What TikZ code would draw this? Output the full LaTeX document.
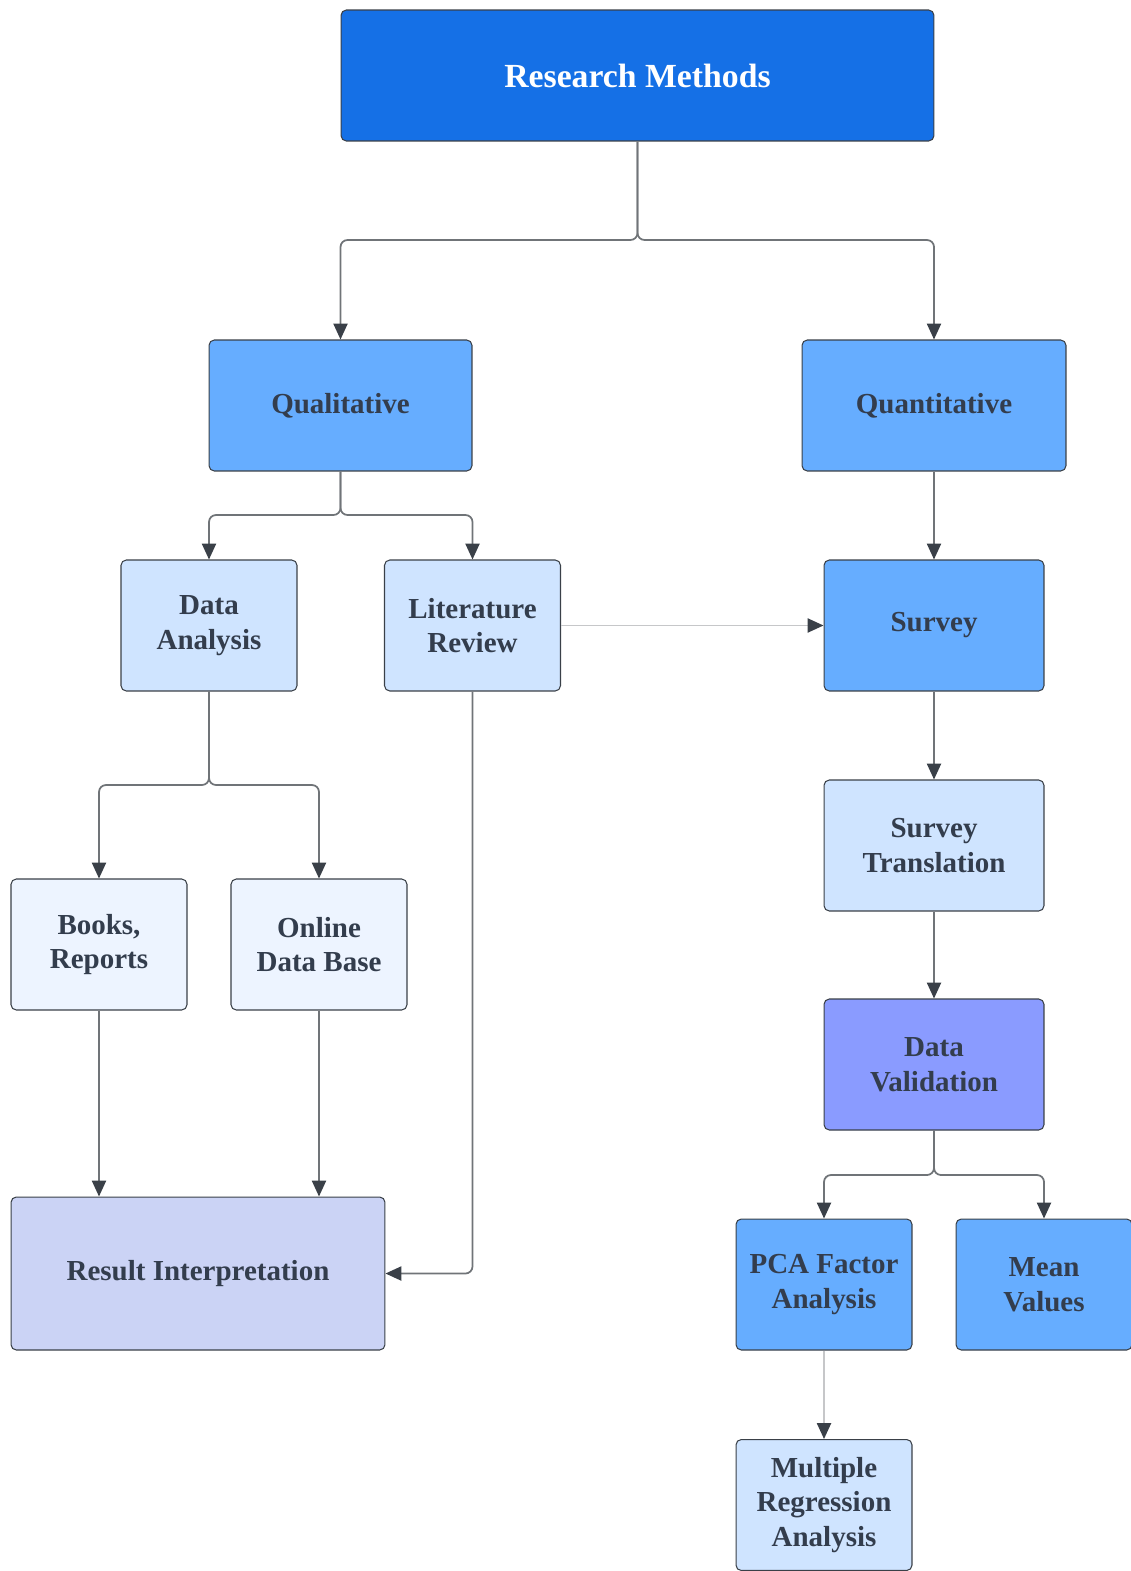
\documentclass[tikz,border=0pt]{standalone}
\usepackage{fontspec}
\setmainfont{Liberation Serif}
\newfontfamily\boxfont{Liberation Serif Bold}
\usepackage{tikz}
\usetikzlibrary{arrows.meta}

\definecolor{topblue}{HTML}{1570E6}
\definecolor{midblue}{HTML}{66ADFF}
\definecolor{lightblue}{HTML}{CFE4FF}
\definecolor{paleblue}{HTML}{EDF4FF}
\definecolor{violetblue}{HTML}{8A9BFF}
\definecolor{lavender}{HTML}{CBD3F5}
\definecolor{textgray}{HTML}{333D4D}
\definecolor{linegray}{HTML}{707478}
\definecolor{tipgray}{HTML}{3A4048}

\begin{document}
\begin{tikzpicture}[x=0.02cm, y=-0.02cm]
    \tikzstyle{box}=[draw=tipgray, line width=0.6pt, rounded corners=3pt,
      text=textgray, align=center, inner sep=0pt,
      font=\boxfont\fontsize{16.5}{19.8}\selectfont,
      minimum width=3.52cm, minimum height=2.62cm]
    \tikzstyle{conn}=[draw=linegray, line width=1pt, rounded corners=4pt,
      -{Triangle[length=9pt, width=8pt, color=tipgray]}]
    \tikzstyle{faint}=[conn, draw=linegray!40]
    \useasboundingbox (0,0) rectangle (1131,1571);
    % top level
    \node[box, fill=topblue, text=white, minimum width=11.86cm,
      font=\boxfont\fontsize{19.2}{22}\selectfont] (rm) at (637.5,75.5) {Research Methods};
    \node[box, fill=midblue, minimum width=5.26cm] (qual) at (340.5,405.5) {Qualitative};
    \node[box, fill=midblue, minimum width=5.28cm] (quant) at (934,405.5) {Quantitative};
    % qualitative branch
    \node[box, fill=lightblue] (da) at (209,625.5) {Data\\Analysis};
    \node[box, fill=lightblue] (lit) at (472.5,625.5) {Literature\\Review};
    \node[box, fill=paleblue] (books) at (99,944.5) {Books,\\Reports};
    \node[box, fill=paleblue] (online) at (319,944.5) {Online\\Data Base};
    \node[box, fill=lavender, minimum width=7.48cm, minimum height=3.06cm] (res) at (198,1273.5) {Result Interpretation};
    % quantitative branch
    \node[box, fill=midblue, minimum width=4.4cm] (survey) at (934,625.5) {Survey};
    \node[box, fill=lightblue, minimum width=4.4cm] (trans) at (934,845.5) {Survey\\Translation};
    \node[box, fill=violetblue, minimum width=4.4cm] (valid) at (934,1064.5) {Data\\Validation};
    \node[box, fill=midblue] (pca) at (824,1284.5) {PCA Factor\\Analysis};
    \node[box, fill=midblue] (mean) at (1044,1284.5) {Mean\\Values};
    \node[box, fill=lightblue] (mra) at (824,1505) {Multiple\\Regression\\Analysis};

    \coordinate (j1) at (637.5,240);
    \coordinate (j2) at (340.5,515);
    \coordinate (j3) at (209,785);
    \coordinate (j4) at (934,1175);

    \draw[conn] (rm.south) -- (j1) -| (qual.north);
    \draw[conn] (rm.south) -- (j1) -| (quant.north);
    \draw[conn] (qual.south) -- (j2) -| (da.north);
    \draw[conn] (qual.south) -- (j2) -| (lit.north);
    \draw[conn] (da.south) -- (j3) -| (books.north);
    \draw[conn] (da.south) -- (j3) -| (online.north);
    \draw[conn] (books) -- (books |- res.north);
    \draw[conn] (online) -- (online |- res.north);
    \draw[conn] (lit.south) |- (res.east);
    \draw[faint] (lit.east) -- (survey.west);
    \draw[conn] (quant) -- (survey);
    \draw[conn] (survey) -- (trans);
    \draw[conn] (trans) -- (valid);
    \draw[conn] (valid.south) -- (j4) -| (pca.north);
    \draw[conn] (valid.south) -- (j4) -| (mean.north);
    \draw[faint] (pca) -- (mra);
\end{tikzpicture}
\end{document}
